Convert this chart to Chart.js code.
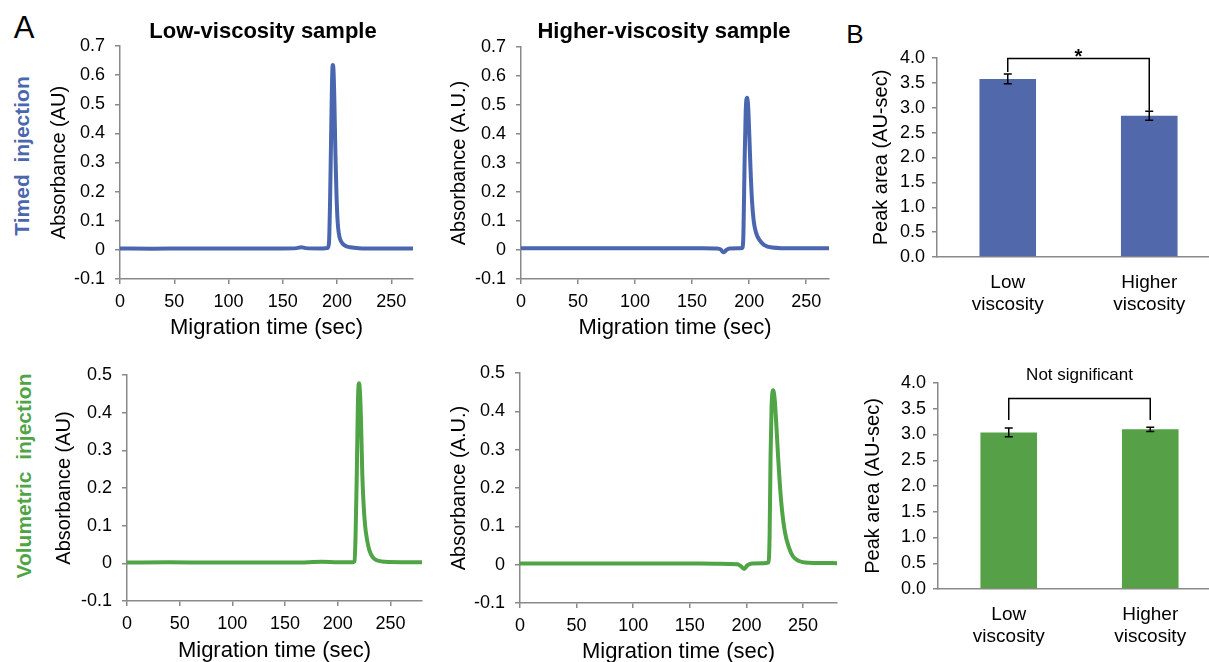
<!DOCTYPE html>
<html>
<head>
<meta charset="utf-8">
<script src="https://cdn.jsdelivr.net/npm/chart.js@4.4.1/dist/chart.umd.min.js"></script>
<style>
    html, body { margin: 0; padding: 0; width: 1209px; height: 662px; overflow: hidden; background: #fff; }
    body { position: relative; font-family: "Liberation Sans", Arial, sans-serif; }
    canvas { position: absolute; }
    .lbl { position: absolute; white-space: pre; transform: translate(-50%, -50%); color: #000; z-index: 2; }
    .rot { transform: translate(-50%, -50%) rotate(-90deg); font-weight: bold; font-size: 21px; }
</style>
</head>
<body>
<div class="lbl" style="left:24px;top:28px;font-size:31px;">A</div>
<div class="lbl" style="left:855px;top:34px;font-size:26px;">B</div>
<div class="lbl" style="left:263px;top:31px;font-size:22px;font-weight:bold;">Low-viscosity sample</div>
<div class="lbl" style="left:664px;top:31px;font-size:22px;font-weight:bold;">Higher-viscosity sample</div>
<div class="lbl rot" style="left:22px;top:156px;color:#4a66ae;">Timed  injection</div>
<div class="lbl rot" style="left:24px;top:476px;color:#4fa446;">Volumetric  injection</div>

<canvas id="timedLow"></canvas>
<canvas id="timedHigh"></canvas>
<canvas id="timedBars"></canvas>
<canvas id="volLow"></canvas>
<canvas id="volHigh"></canvas>
<canvas id="volBars"></canvas>

<script>
var BLUE = '#4a66ae';
var GREEN = '#4fa446';
var BAR_BLUE = '#5168aa';
var BAR_GREEN = '#56a147';
var AXIS = '#898989';
var TOP_PAD = 24;

// electropherograms: migration time (sec) and absorbance (AU)
var timedLowT = [0, 30, 60, 90, 120, 150, 163, 167, 171, 185, 191, 192.5, 193.5, 194.5, 195.3, 196, 196.7, 197.5, 198.5, 199.5, 200.5, 201.5, 203, 205, 208, 212, 220, 240, 270];
var timedLowA = [0.005, 0.004, 0.005, 0.005, 0.005, 0.005, 0.006, 0.009, 0.006, 0.005, 0.006, 0.02, 0.15, 0.38, 0.56, 0.635, 0.62, 0.52, 0.33, 0.19, 0.10, 0.06, 0.035, 0.022, 0.013, 0.009, 0.006, 0.005, 0.005];

var timedHighT = [0, 40, 80, 120, 160, 172, 175, 177.5, 180, 183, 190, 194, 195, 196, 197, 198.2, 199.2, 200.2, 201.2, 202.5, 204, 206, 209, 213, 220, 240, 270];
var timedHighA = [0.006, 0.006, 0.006, 0.006, 0.006, 0.005, 0.002, -0.008, 0.0, 0.005, 0.006, 0.007, 0.06, 0.3, 0.48, 0.525, 0.49, 0.39, 0.28, 0.17, 0.10, 0.06, 0.035, 0.018, 0.009, 0.006, 0.006];

var volLowT = [0, 40, 80, 120, 160, 185, 200, 214, 216, 217, 218, 219, 219.7, 220.2, 221, 222, 223.3, 224.5, 226, 228, 230, 233, 237, 245, 260, 280];
var volLowA = [0.002, 0.003, 0.002, 0.002, 0.002, 0.004, 0.003, 0.003, 0.005, 0.08, 0.22, 0.40, 0.47, 0.478, 0.46, 0.39, 0.24, 0.16, 0.10, 0.06, 0.035, 0.017, 0.008, 0.004, 0.003, 0.003];

var volHighT = [0, 40, 80, 120, 160, 185, 192, 195, 198, 201, 205, 215, 219.5, 220.5, 221.3, 222.2, 223.6, 225, 226.5, 228, 229.5, 231.5, 234, 237.5, 241, 246, 255, 280];
var volHighA = [0.003, 0.003, 0.003, 0.003, 0.003, 0.002, 0.001, -0.004, -0.011, -0.001, 0.003, 0.004, 0.006, 0.08, 0.28, 0.41, 0.455, 0.43, 0.36, 0.28, 0.21, 0.14, 0.085, 0.045, 0.022, 0.01, 0.005, 0.004];

// peak areas (AU-sec), mean and error
var barCats = [['Low', 'viscosity'], ['Higher', 'viscosity']];
var timedArea = [3.58, 2.84];
var timedErr = [0.10, 0.09];
var volArea = [3.04, 3.10];
var volErr = [0.085, 0.04];
// bracket: level, left end, right end
var timedBracket = [3.99, 3.72, 2.94];
var volBracket = [3.70, 3.28, 3.28];

function placeCanvas(id, left, top, w, h) {
    var c = document.getElementById(id);
    c.width = w;
    c.height = h;
    c.style.left = left + 'px';
    c.style.top = top + 'px';
    c.style.width = w + 'px';
    c.style.height = h + 'px';
    return c;
}

function lineChart(id, g, t, a, color, xMax, yMax, yTitle) {
    var left = g.yTitleX - 12, top = g.T - TOP_PAD;
    var w = g.R - left + 10, h = g.xTitleY + 13 - top;
    var c = placeCanvas(id, left, top, w, h);
    var pts = t.map(function (x, i) { return { x: x, y: a[i] }; });
    return new Chart(c, {
        type: 'line',
        data: {
            datasets: [{
                data: pts,
                borderColor: color,
                borderWidth: 4,
                pointRadius: 0,
                cubicInterpolationMode: 'monotone',
                fill: false
            }]
        },
        options: {
            responsive: false,
            animation: false,
            layout: { padding: { top: TOP_PAD, right: 10, left: 0, bottom: 0 } },
            plugins: { legend: { display: false }, tooltip: { enabled: false } },
            scales: {
                x: {
                    type: 'linear', min: 0, max: xMax,
                    afterFit: function (s) { s.height = g.xTitleY + 13 - g.B; },
                    ticks: { stepSize: 50, includeBounds: false, padding: 7, color: '#000', font: { size: 18 } },
                    grid: { drawOnChartArea: false, tickLength: 5, color: AXIS, lineWidth: 1.5 },
                    border: { color: AXIS, width: 1.5 },
                    title: { display: true, text: 'Migration time (sec)', color: '#000', font: { size: 22 }, padding: 0 }
                },
                y: {
                    min: -0.1, max: yMax,
                    afterFit: function (s) { s.width = g.L - left; },
                    ticks: {
                        stepSize: 0.1, padding: 10, color: '#000', font: { size: 18 },
                        callback: function (v) { return Math.abs(v) < 1e-9 ? '0' : v.toFixed(1); }
                    },
                    grid: { drawOnChartArea: false, tickLength: 5, color: AXIS, lineWidth: 1.5 },
                    border: { color: AXIS, width: 1.5 },
                    title: { display: true, text: yTitle, color: '#000', font: { size: 20 }, padding: 0 }
                }
            }
        }
    });
}

function annotations(vals, errs, bracket, note, noteFont, noteDy, noteBase) {
    return {
        id: 'annotations',
        afterDatasetsDraw: function (chart) {
            var ctx = chart.ctx, xs = chart.scales.x, ys = chart.scales.y;
            ctx.save();
            ctx.strokeStyle = '#000';
            ctx.lineWidth = 1.5;
            vals.forEach(function (v, i) {
                var x = xs.getPixelForValue(i);
                var y0 = ys.getPixelForValue(v - errs[i]), y1 = ys.getPixelForValue(v + errs[i]);
                ctx.beginPath();
                ctx.moveTo(x, y0); ctx.lineTo(x, y1);
                ctx.moveTo(x - 4, y0); ctx.lineTo(x + 4, y0);
                ctx.moveTo(x - 4, y1); ctx.lineTo(x + 4, y1);
                ctx.stroke();
            });
            var xa = xs.getPixelForValue(0), xb = xs.getPixelForValue(1);
            var yl = ys.getPixelForValue(bracket[0]);
            ctx.beginPath();
            ctx.moveTo(xa, ys.getPixelForValue(bracket[1]));
            ctx.lineTo(xa, yl);
            ctx.lineTo(xb, yl);
            ctx.lineTo(xb, ys.getPixelForValue(bracket[2]));
            ctx.stroke();
            ctx.fillStyle = '#000';
            ctx.font = noteFont;
            ctx.textAlign = 'center';
            ctx.textBaseline = noteBase;
            ctx.fillText(note, (xa + xb) / 2, yl + noteDy);
            ctx.restore();
        }
    };
}

function barChart(id, g, vals, errs, color, bracket, note, noteFont, noteDy, noteBase) {
    var left = g.yTitleX - 12, top = g.T - TOP_PAD;
    var xh = 68;
    var w = g.R - left, h = g.B - top + xh;
    var c = placeCanvas(id, left, top, w, h);
    return new Chart(c, {
        type: 'bar',
        data: {
            labels: barCats,
            datasets: [{ data: vals, backgroundColor: color, barPercentage: 0.4, categoryPercentage: 1 }]
        },
        options: {
            responsive: false,
            animation: false,
            layout: { padding: { top: TOP_PAD, right: 0, left: 0, bottom: 0 } },
            plugins: { legend: { display: false }, tooltip: { enabled: false } },
            scales: {
                x: {
                    afterFit: function (s) { s.height = xh; },
                    grid: { display: false, drawTicks: false },
                    border: { color: AXIS, width: 1.5 },
                    ticks: { padding: 14, color: '#000', font: { size: 19, lineHeight: 1.2 } }
                },
                y: {
                    min: 0, max: 4,
                    afterFit: function (s) { s.width = g.L - left; },
                    ticks: { stepSize: 0.5, padding: 7, color: '#000', font: { size: 18 },
                        callback: function (v) { return v.toFixed(1); } },
                    grid: { drawOnChartArea: false, tickLength: 5, color: AXIS, lineWidth: 1.5 },
                    border: { color: AXIS, width: 1.5 },
                    title: { display: true, text: 'Peak area (AU-sec)', color: '#000', font: { size: 20 }, padding: 0 }
                }
            }
        },
        plugins: [annotations(vals, errs, bracket, note, noteFont, noteDy, noteBase)]
    });
}

lineChart('timedLow', { L: 120, R: 413, T: 46, B: 279, yTitleX: 59, xTitleY: 328 },
    timedLowT, timedLowA, BLUE, 270, 0.7, 'Absorbance (AU)');
lineChart('timedHigh', { L: 521, R: 829, T: 47, B: 279, yTitleX: 459, xTitleY: 328 },
    timedHighT, timedHighA, BLUE, 270, 0.7, 'Absorbance (A.U.)');
lineChart('volLow', { L: 127, R: 422, T: 375, B: 601, yTitleX: 64, xTitleY: 651 },
    volLowT, volLowA, GREEN, 280, 0.5, 'Absorbance (AU)');
lineChart('volHigh', { L: 520, R: 837, T: 373, B: 603, yTitleX: 459, xTitleY: 652 },
    volHighT, volHighA, GREEN, 280, 0.5, 'Absorbance (A.U.)');

barChart('timedBars', { L: 937, R: 1220, T: 58, B: 257, yTitleX: 881 },
    timedArea, timedErr, BAR_BLUE, timedBracket, '*', 'bold 20px "Liberation Sans", Arial', 5, 'alphabetic');
barChart('volBars', { L: 938, R: 1221, T: 383, B: 589, yTitleX: 873 },
    volArea, volErr, BAR_GREEN, volBracket, 'Not significant', '17px "Liberation Sans", Arial', -23, 'middle');
</script>
</body>
</html>
